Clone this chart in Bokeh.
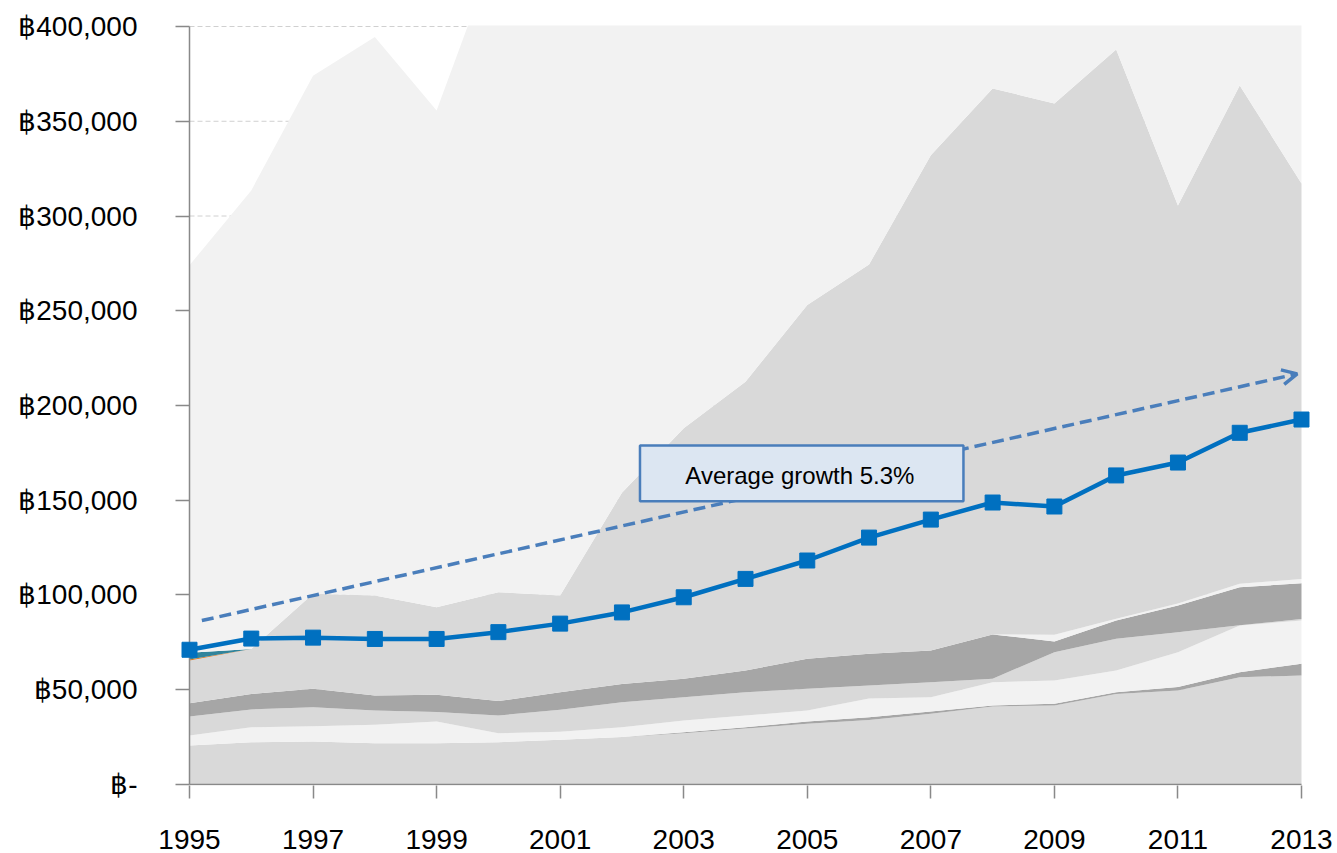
from bokeh.plotting import figure
from bokeh.models import Range1d, FixedTicker, Arrow, OpenHead, BoxAnnotation, Label, ColumnDataSource
from bokeh.embed import file_html
from bokeh.resources import INLINE

years = [1995, 1996, 1997, 1998, 1999, 2000, 2001, 2002, 2003, 2004,
         2005, 2006, 2007, 2008, 2009, 2010, 2011, 2012, 2013]

# stacked background bands (baht), bottom to top
band1 = [20600, 22300, 22700, 21800, 21800, 22300, 23600, 25000, 27000, 29500,
         32000, 34100, 37300, 41200, 41700, 47800, 49600, 56600, 57500]
band2 = [0, 0, 0, 0, 0, 0, 0, 0, 600, 700,
         1200, 1400, 1200, 500, 900, 900, 1800, 2700, 6200]
band3 = [5300, 7900, 8100, 9700, 11400, 4800, 4200, 5200, 6200, 6200,
         5800, 9900, 7600, 12300, 12300, 11500, 18400, 24600, 22800]
band4 = [10000, 9400, 10000, 7500, 5000, 9300, 11700, 13200, 12300, 12300,
         11500, 6800, 7900, 1800, 14900, 16700, 10600, 100, 900]
band5 = [7000, 8200, 9700, 8000, 9100, 7600, 9200, 9700, 9700, 11500,
         15900, 16800, 16700, 23400, 5700, 9600, 14100, 20100, 18800]
band6 = [0, 0, 0, 0, 0, 0, 0, 0, 0, 0,
         0, 0, 0, 0, 3500, 1000, 1000, 1800, 2300]
band7 = [22500, 23700, 50100, 52700, 46300, 57500, 51000, 100900, 132200, 152300,
         186600, 205400, 261300, 288100, 280400, 300400, 210000, 263000, 208700]
band_orange = [600, 0, 0, 0, 0, 0, 0, 0, 0, 0,
               0, 0, 0, 0, 0, 0, 0, 0, 0]
band_teal = [3500, 0, 0, 0, 0, 0, 0, 0, 0, 0,
             0, 0, 0, 0, 0, 0, 0, 0, 0]
band8 = [204500, 242000, 273400, 294700, 262100, 342500, 355300, 316000, 292000, 287500,
         267000, 265600, 228000, 212700, 230600, 222100, 314500, 271100, 332800]

# average series (blue line)
average = [71100, 77000, 77500, 76800, 76800, 80400, 84900, 90800, 98800, 108500,
           118200, 130300, 139800, 148800, 146700, 163100, 169900, 185600, 192600]

# trend arrow and annotation
trend_x = [1995.2, 2012.93]
trend_y = [86500, 216700]
note_text = "Average growth 5.3%"

y_ticks = [0, 50000, 100000, 150000, 200000, 250000, 300000, 350000, 400000]
y_tick_labels = ["฿-", "฿50,000", "฿100,000", "฿150,000", "฿200,000",
                 "฿250,000", "฿300,000", "฿350,000", "฿400,000"]
x_ticks = [1995, 1997, 1999, 2001, 2003, 2005, 2007, 2009, 2011, 2013]
x_tick_labels = ["1995", "1997", "1999", "2001", "2003", "2005", "2007", "2009", "2011", "2013"]

LIGHT = "#d9d9d9"
DARK = "#a6a6a6"
PALE = "#f2f2f2"
AXIS = "#898989"
band_names = ["b1", "b2", "b3", "b4", "b5", "b6", "b7", "bor", "bteal", "b8"]
band_values = [band1, band2, band3, band4, band5, band6, band7, band_orange, band_teal, band8]
band_colors = [LIGHT, DARK, PALE, LIGHT, DARK, PALE, LIGHT, "#e46c0a", "#31849b", PALE]

data = {"year": years, "average": average}
for n, v in zip(band_names, band_values):
    data[n] = v
source = ColumnDataSource(data)

p = figure(width=1337, height=853,
           x_range=Range1d(1994.8543, 2013.1457), y_range=Range1d(-528, 400528),
           output_backend="svg", toolbar_location=None,
           min_border_left=180, min_border_right=27, min_border_top=25, min_border_bottom=68,
           outline_line_color=None, background_fill_color="white", border_fill_color="white")

p.xgrid.visible = False
p.ygrid.visible = False

# dashed horizontal gridlines (drawn first so the areas cover them)
n = len(y_ticks)
p.segment(x0=[years[0]] * n, y0=y_ticks, x1=[years[-1]] * n, y1=y_ticks,
          line_color="#d0d0d0", line_width=1, line_dash="5 3")

p.varea_stack(stackers=band_names, x="year", color=band_colors, source=source)

# axis lines at the data edges
p.segment(x0=[years[0], years[0]], y0=[0, 0], x1=[years[-1], years[0]], y1=[0, y_ticks[-1]],
          line_color=AXIS, line_width=1.5)

p.line("year", "average", source=source, line_color="#0070c0", line_width=4.5)
p.scatter("year", "average", source=source, marker="square", size=15,
          fill_color="#0070c0", line_color="#0070c0")

arrow_color = "#4a7ebb"
p.add_layout(Arrow(x_start=trend_x[0], y_start=trend_y[0], x_end=trend_x[1], y_end=trend_y[1],
                   line_color=arrow_color, line_width=3.5, line_dash="12 6",
                   end=OpenHead(size=15, line_color=arrow_color, line_width=3.5)))

p.add_layout(BoxAnnotation(left=2002.292, right=2007.528, bottom=149500, top=178900,
                           fill_color="#dce6f2", fill_alpha=1.0,
                           line_color=arrow_color, line_width=2.5, line_alpha=1.0))
p.add_layout(Label(x=2004.88, y=163000, text=note_text, text_align="center",
                   text_baseline="middle", text_font="Liberation Sans",
                   text_font_size="24px", text_color="#000000"))

# axes
xa = p.xaxis[0]
xa.ticker = FixedTicker(ticks=x_ticks)
xa.major_label_overrides = {t: l for t, l in zip(x_ticks, x_tick_labels)}
xa.minor_tick_line_color = None
xa.major_tick_in = 0
xa.major_tick_out = 13
xa.axis_line_color = None
xa.major_tick_line_color = AXIS
xa.major_tick_line_width = 1.5
xa.major_label_standoff = 31
xa.major_label_text_font = "Liberation Sans"
xa.major_label_text_font_size = "28px"
xa.major_label_text_color = "#000000"

ya = p.yaxis[0]
ya.ticker = FixedTicker(ticks=y_ticks)
ya.major_label_overrides = {t: l for t, l in zip(y_ticks, y_tick_labels)}
ya.minor_tick_line_color = None
ya.major_tick_in = 9
ya.major_tick_out = 5
ya.axis_line_color = None
ya.major_tick_line_color = AXIS
ya.major_tick_line_width = 1.5
ya.major_label_standoff = 38
ya.major_label_text_font = "Liberation Sans"
ya.major_label_text_font_size = "28px"
ya.major_label_text_color = "#000000"

open("out.html", "w").write(file_html(p, INLINE))
